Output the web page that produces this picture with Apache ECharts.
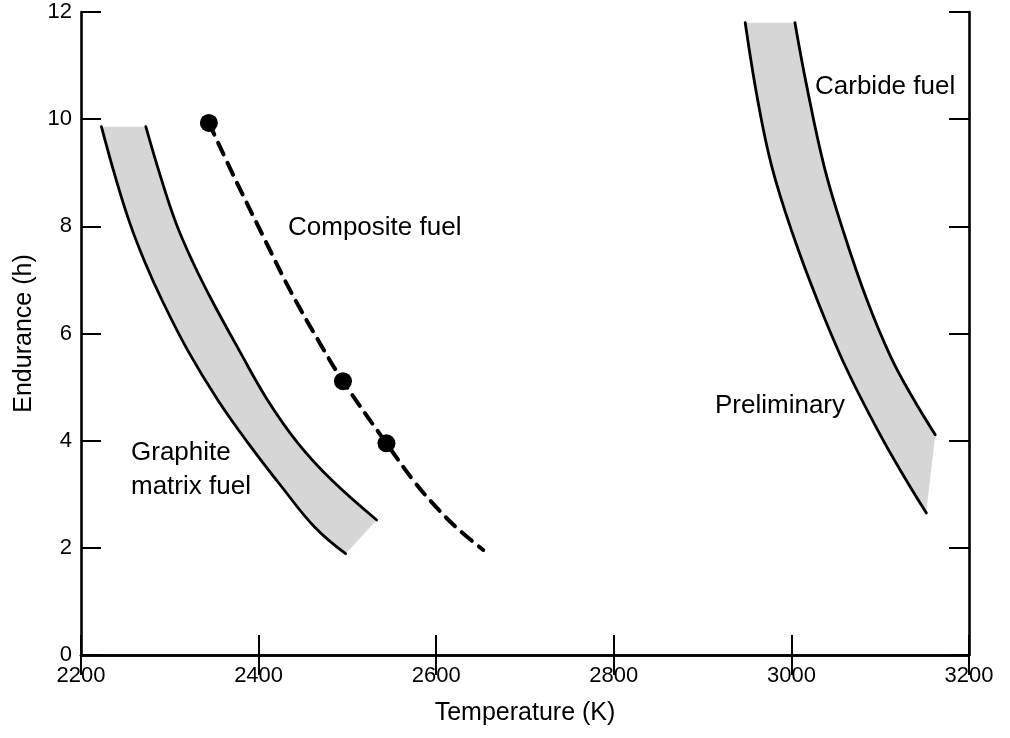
<!DOCTYPE html>
<html>
<head>
<meta charset="utf-8">
<script src="https://cdn.jsdelivr.net/npm/echarts@6/dist/echarts.min.js"></script>
<style>
html,body{margin:0;padding:0;background:#fff;}
#chart{width:1010px;height:738px;}
</style>
</head>
<body>
<div id="chart"></div>
<script>
// ---- Data ----
const xTickLabels = ['2200', '2400', '2600', '2800', '3000', '3200'];
const yTickLabels = ['0', '2', '4', '6', '8', '10', '12'];

// Graphite matrix fuel band
const graphiteLowT = [2223, 2238, 2255, 2272, 2291, 2320, 2354, 2388, 2426, 2463, 2498];
const graphiteLowE = [9.86, 8.96, 8.06, 7.33, 6.63, 5.69, 4.76, 3.96, 3.14, 2.39, 1.89];
const graphiteHighT = [2273, 2289, 2307, 2326, 2347, 2378, 2410, 2444, 2482, 2533];
const graphiteHighE = [9.86, 8.96, 8.06, 7.33, 6.63, 5.69, 4.76, 3.96, 3.27, 2.52];

// Carbide fuel band
const carbideLowT = [2948, 2962, 2978, 3001, 3029, 3061, 3099, 3129, 3152];
const carbideLowE = [11.80, 10.36, 9.11, 7.88, 6.63, 5.38, 4.14, 3.27, 2.65];
const carbideHighT = [3004, 3017, 3037, 3059, 3085, 3112, 3136, 3162];
const carbideHighE = [11.80, 10.64, 9.11, 7.88, 6.63, 5.56, 4.82, 4.11];

// Composite fuel (dashed curve and measured points)
const compositeCurveT = [2344, 2374, 2405, 2436, 2469, 2495, 2544, 2577, 2599, 2622, 2653];
const compositeCurveE = [9.93, 8.87, 7.82, 6.79, 5.82, 5.11, 3.95, 3.20, 2.78, 2.39, 1.96];
const compositePointT = [2344, 2495, 2544];
const compositePointE = [9.93, 5.11, 3.95];

const FONT = '"Liberation Sans", Arial, Helvetica, sans-serif';
const SMOOTH = 0.4;

function zip(a, b) { return a.map((v, i) => [v, b[i]]); }

function bandRenderer(lowT, lowE, highT, highE) {
  return function (params, api) {
    const L = lowT.map((t, i) => api.coord([t, lowE[i]]));
    const R = highT.map((t, i) => api.coord([t, highE[i]]));
    const Rr = R.slice().reverse();
    // duplicate the corner points so the end cuts stay straight
    const poly = [L[0]].concat(L, [L[L.length - 1]], [Rr[0]], Rr, [Rr[Rr.length - 1]]);
    return {
      type: 'group',
      children: [
        { type: 'polygon', shape: { points: poly, smooth: SMOOTH }, style: { fill: '#d6d6d6', stroke: null } },
        { type: 'polyline', shape: { points: L, smooth: SMOOTH }, style: { stroke: '#000', lineWidth: 2.8, fill: null, lineCap: 'round' } },
        { type: 'polyline', shape: { points: R, smooth: SMOOTH }, style: { stroke: '#000', lineWidth: 2.8, fill: null, lineCap: 'round' } }
      ]
    };
  };
}

const chart = echarts.init(document.getElementById('chart'), null, { renderer: 'canvas' });

const axisLineStyle = { color: '#000', width: 2.6 };
const tickStyle = { show: true, inside: true, length: 20, lineStyle: { color: '#000', width: 2 } };

const option = {
  animation: false,
  backgroundColor: '#fff',
  grid: { left: 81, right: 41, top: 12, bottom: 83, containLabel: false },
  xAxis: [
    {
      type: 'value', min: 2200, max: 3200, interval: 200, position: 'bottom',
      axisLine: { show: true, lineStyle: axisLineStyle },
      axisTick: tickStyle,
      splitLine: { show: false },
      axisLabel: {
        color: '#000', fontSize: 22, fontFamily: FONT, margin: 10,
        formatter: function (v) { const i = xTickLabels.indexOf(String(v)); return i >= 0 ? xTickLabels[i] : ''; }
      },
      name: 'Temperature (K)', nameLocation: 'middle', nameGap: 46,
      nameTextStyle: { color: '#000', fontSize: 25, fontFamily: FONT }
    },
    {
      type: 'value', min: 2200, max: 3200, interval: 200, position: 'top',
      axisLine: { show: true, lineStyle: axisLineStyle },
      axisTick: tickStyle,
      splitLine: { show: false },
      axisLabel: { show: false }
    }
  ],
  yAxis: [
    {
      type: 'value', min: 0, max: 12, interval: 2, position: 'left',
      axisLine: { show: true, lineStyle: axisLineStyle },
      axisTick: tickStyle,
      splitLine: { show: false },
      axisLabel: {
        color: '#000', fontSize: 22, fontFamily: FONT, margin: 9,
        formatter: function (v) { const i = yTickLabels.indexOf(String(v)); return i >= 0 ? yTickLabels[i] : ''; }
      },
      name: 'Endurance (h)', nameLocation: 'middle', nameGap: 42,
      nameTextStyle: { color: '#000', fontSize: 25, fontFamily: FONT }
    },
    {
      type: 'value', min: 0, max: 12, interval: 2, position: 'right',
      axisLine: { show: true, lineStyle: axisLineStyle },
      axisTick: tickStyle,
      splitLine: { show: false },
      axisLabel: { show: false }
    }
  ],
  series: [
    {
      type: 'custom', name: 'Graphite matrix fuel', xAxisIndex: 0, yAxisIndex: 0,
      renderItem: bandRenderer(graphiteLowT, graphiteLowE, graphiteHighT, graphiteHighE),
      data: [[graphiteLowT[0], graphiteLowE[0]]], z: 2, silent: true
    },
    {
      type: 'custom', name: 'Carbide fuel', xAxisIndex: 0, yAxisIndex: 0,
      renderItem: bandRenderer(carbideLowT, carbideLowE, carbideHighT, carbideHighE),
      data: [[carbideLowT[0], carbideLowE[0]]], z: 2, silent: true
    },
    {
      type: 'line', name: 'Composite fuel curve', xAxisIndex: 0, yAxisIndex: 0,
      data: zip(compositeCurveT, compositeCurveE),
      smooth: 0.4, showSymbol: false, symbol: 'none',
      lineStyle: { color: '#000', width: 4, type: [13, 9], cap: 'round' },
      z: 3, silent: true
    },
    {
      type: 'scatter', name: 'Composite fuel', xAxisIndex: 0, yAxisIndex: 0,
      data: zip(compositePointT, compositePointE),
      symbol: 'circle', symbolSize: 18,
      itemStyle: { color: '#000', opacity: 1 }, z: 4, silent: true
    }
  ],
  graphic: [
    { type: 'text', x: 288, y: 228, style: { text: 'Composite fuel', font: '26px ' + FONT, fill: '#000', align: 'left', verticalAlign: 'middle' } },
    { type: 'text', x: 131, y: 453, style: { text: 'Graphite', font: '26px ' + FONT, fill: '#000', align: 'left', verticalAlign: 'middle' } },
    { type: 'text', x: 131, y: 487, style: { text: 'matrix fuel', font: '26px ' + FONT, fill: '#000', align: 'left', verticalAlign: 'middle' } },
    { type: 'text', x: 815, y: 87, style: { text: 'Carbide fuel', font: '26px ' + FONT, fill: '#000', align: 'left', verticalAlign: 'middle' } },
    { type: 'text', x: 715, y: 406, style: { text: 'Preliminary', font: '26px ' + FONT, fill: '#000', align: 'left', verticalAlign: 'middle' } }
  ]
};

chart.setOption(option);
</script>
</body>
</html>
